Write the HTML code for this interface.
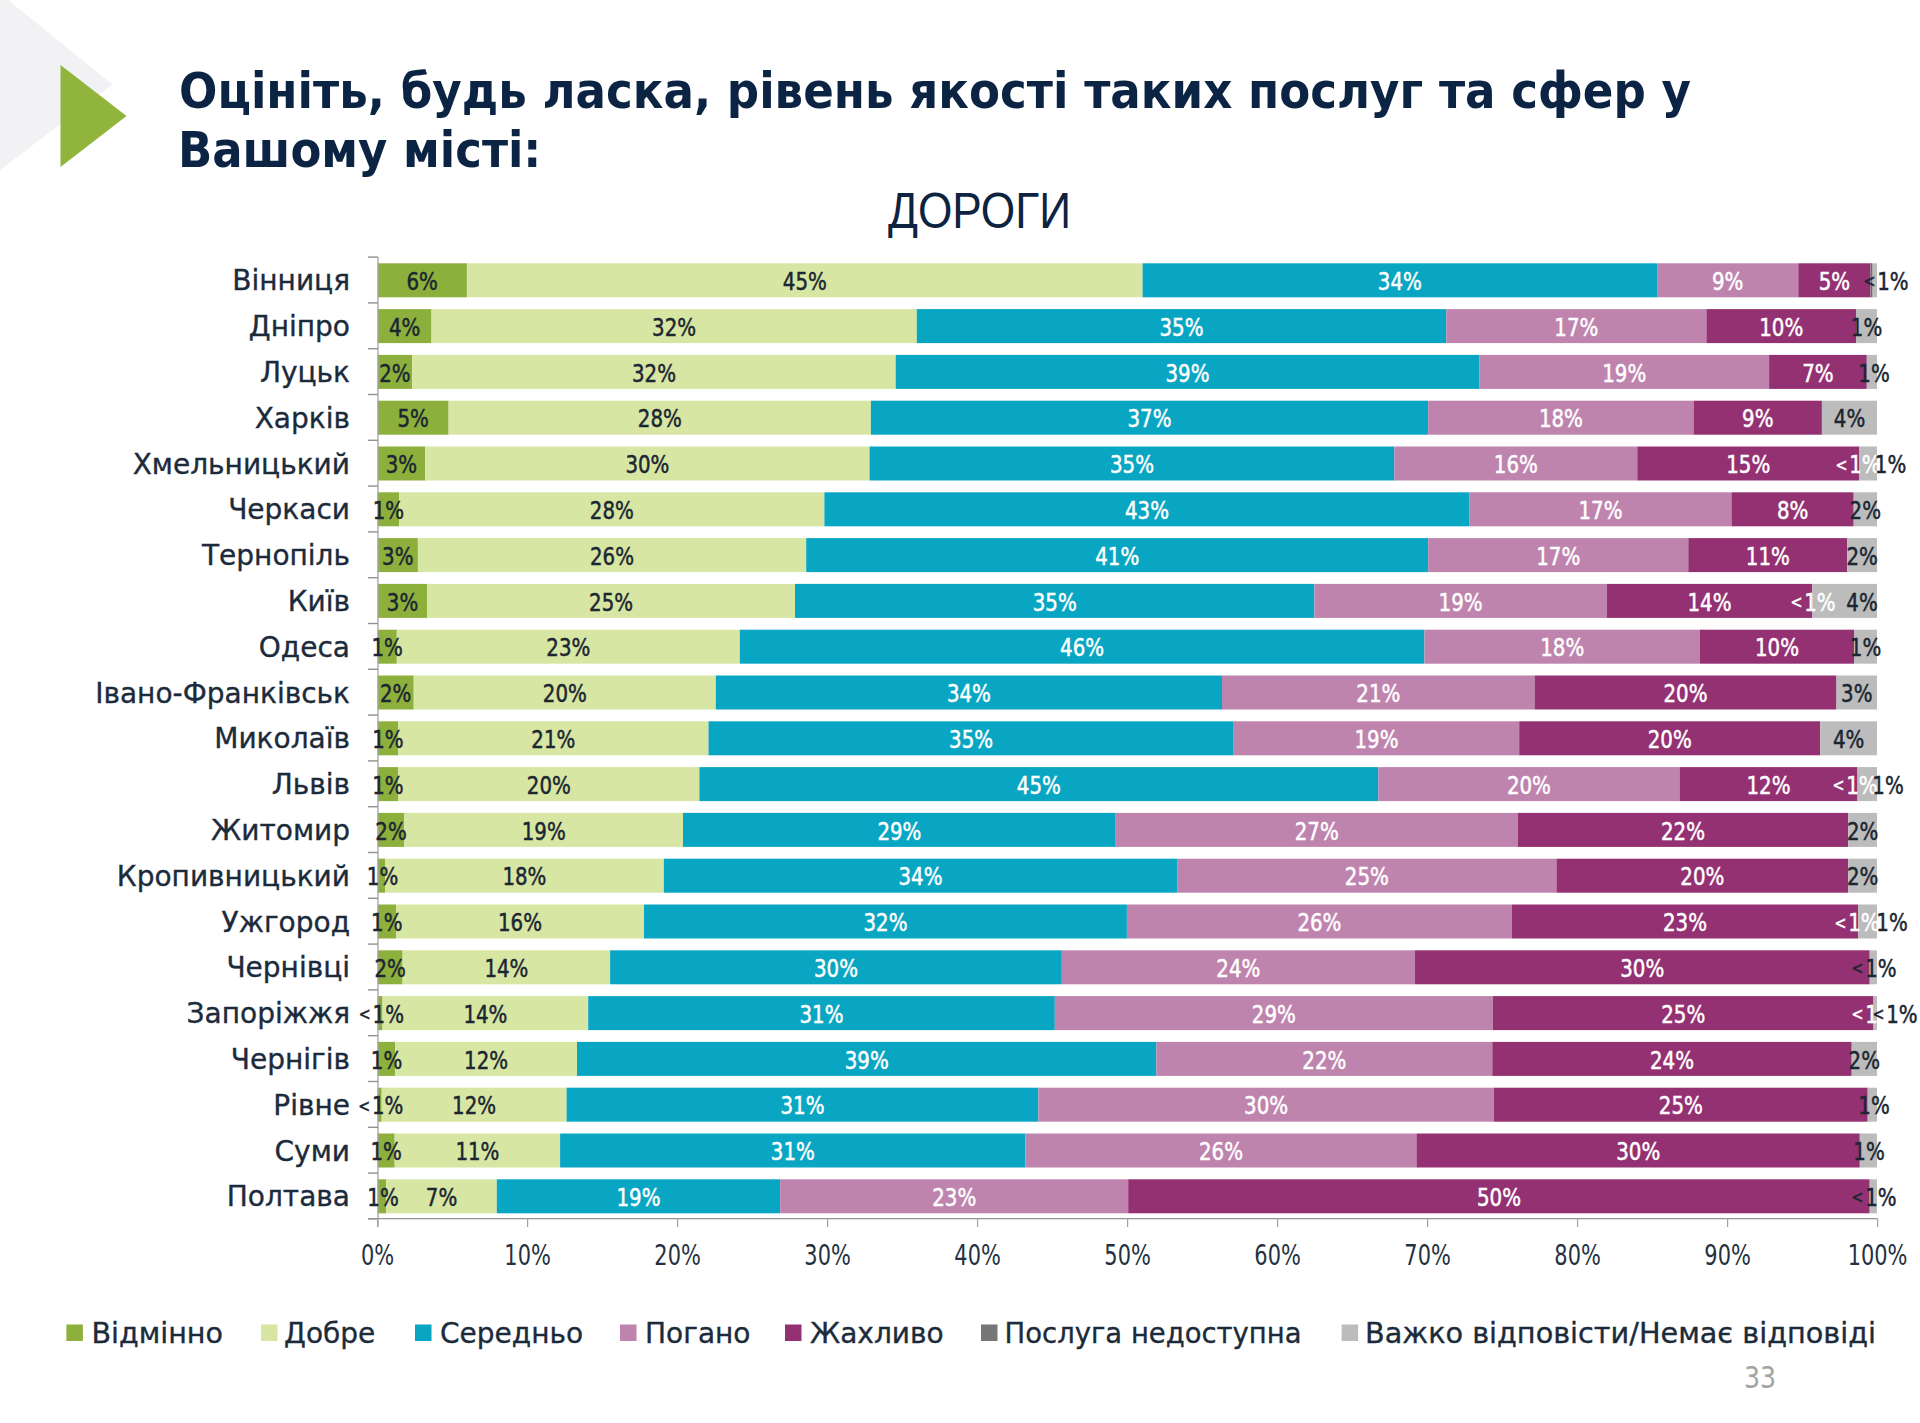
<!DOCTYPE html><html><head><meta charset="utf-8"><style>html,body{margin:0;padding:0;background:#fff;}svg{display:block;}</style></head><body>
<svg width="1920" height="1423" viewBox="0 0 1920 1423">
<rect width="1920" height="1423" fill="#ffffff"/>
<polygon points="0,0 8,0 112.5,84.5 0,170" fill="#f2f2f4"/>
<polygon points="60.5,65 126.5,116 60.5,167" fill="#90b43c"/>
<g font-family="DejaVu Sans, sans-serif" font-weight="bold" font-stretch="condensed" font-size="50" fill="#0c2444">
<text x="179" y="108" textLength="1512" lengthAdjust="spacingAndGlyphs">Оцініть, будь ласка, рівень якості таких послуг та сфер у</text>
<text x="178" y="167">Вашому місті:</text>
</g>
<text x="888" y="228.3" font-family="Liberation Sans, sans-serif" font-size="50.5" fill="#0d2340" textLength="183" lengthAdjust="spacingAndGlyphs">ДОРОГИ</text>
<rect x="377.6" y="263.3" width="89.3" height="34.0" fill="#8db03c"/>
<rect x="466.9" y="263.3" width="675.7" height="34.0" fill="#d8e6a4"/>
<rect x="1142.6" y="263.3" width="514.5" height="34.0" fill="#09a6c3"/>
<rect x="1657.1" y="263.3" width="141.2" height="34.0" fill="#bf84ae"/>
<rect x="1798.3" y="263.3" width="72.3" height="34.0" fill="#943172"/>
<rect x="1870.6" y="263.3" width="6.4" height="34.0" fill="#bcbcbc"/>
<rect x="377.6" y="309.1" width="53.9" height="34.0" fill="#8db03c"/>
<rect x="431.5" y="309.1" width="485.3" height="34.0" fill="#d8e6a4"/>
<rect x="916.8" y="309.1" width="529.5" height="34.0" fill="#09a6c3"/>
<rect x="1446.3" y="309.1" width="260.1" height="34.0" fill="#bf84ae"/>
<rect x="1706.4" y="309.1" width="149.6" height="34.0" fill="#943172"/>
<rect x="1856.0" y="309.1" width="21.0" height="34.0" fill="#bcbcbc"/>
<rect x="377.6" y="354.9" width="34.6" height="34.0" fill="#8db03c"/>
<rect x="412.2" y="354.9" width="483.5" height="34.0" fill="#d8e6a4"/>
<rect x="895.7" y="354.9" width="583.5" height="34.0" fill="#09a6c3"/>
<rect x="1479.2" y="354.9" width="289.9" height="34.0" fill="#bf84ae"/>
<rect x="1769.1" y="354.9" width="97.7" height="34.0" fill="#943172"/>
<rect x="1866.8" y="354.9" width="10.2" height="34.0" fill="#bcbcbc"/>
<rect x="377.6" y="400.7" width="71.0" height="34.0" fill="#8db03c"/>
<rect x="448.6" y="400.7" width="422.3" height="34.0" fill="#d8e6a4"/>
<rect x="870.9" y="400.7" width="557.3" height="34.0" fill="#09a6c3"/>
<rect x="1428.2" y="400.7" width="265.4" height="34.0" fill="#bf84ae"/>
<rect x="1693.6" y="400.7" width="128.3" height="34.0" fill="#943172"/>
<rect x="1821.9" y="400.7" width="55.1" height="34.0" fill="#bcbcbc"/>
<rect x="377.6" y="446.5" width="47.6" height="34.0" fill="#8db03c"/>
<rect x="425.2" y="446.5" width="444.4" height="34.0" fill="#d8e6a4"/>
<rect x="869.6" y="446.5" width="524.7" height="34.0" fill="#09a6c3"/>
<rect x="1394.3" y="446.5" width="243.0" height="34.0" fill="#bf84ae"/>
<rect x="1637.3" y="446.5" width="221.7" height="34.0" fill="#943172"/>
<rect x="1859.0" y="446.5" width="18.0" height="34.0" fill="#bcbcbc"/>
<rect x="377.6" y="492.3" width="21.6" height="34.0" fill="#8db03c"/>
<rect x="399.2" y="492.3" width="425.2" height="34.0" fill="#d8e6a4"/>
<rect x="824.4" y="492.3" width="645.2" height="34.0" fill="#09a6c3"/>
<rect x="1469.6" y="492.3" width="261.9" height="34.0" fill="#bf84ae"/>
<rect x="1731.5" y="492.3" width="122.2" height="34.0" fill="#943172"/>
<rect x="1853.7" y="492.3" width="23.3" height="34.0" fill="#bcbcbc"/>
<rect x="377.6" y="538.1" width="40.3" height="34.0" fill="#8db03c"/>
<rect x="417.9" y="538.1" width="388.3" height="34.0" fill="#d8e6a4"/>
<rect x="806.2" y="538.1" width="622.0" height="34.0" fill="#09a6c3"/>
<rect x="1428.2" y="538.1" width="260.1" height="34.0" fill="#bf84ae"/>
<rect x="1688.3" y="538.1" width="159.0" height="34.0" fill="#943172"/>
<rect x="1847.3" y="538.1" width="29.7" height="34.0" fill="#bcbcbc"/>
<rect x="377.6" y="583.9" width="49.7" height="34.0" fill="#8db03c"/>
<rect x="427.3" y="583.9" width="367.7" height="34.0" fill="#d8e6a4"/>
<rect x="795.0" y="583.9" width="519.4" height="34.0" fill="#09a6c3"/>
<rect x="1314.4" y="583.9" width="292.3" height="34.0" fill="#bf84ae"/>
<rect x="1606.7" y="583.9" width="205.6" height="34.0" fill="#943172"/>
<rect x="1812.3" y="583.9" width="64.7" height="34.0" fill="#bcbcbc"/>
<rect x="377.6" y="629.7" width="19.2" height="34.0" fill="#8db03c"/>
<rect x="396.8" y="629.7" width="343.0" height="34.0" fill="#d8e6a4"/>
<rect x="739.8" y="629.7" width="684.6" height="34.0" fill="#09a6c3"/>
<rect x="1424.4" y="629.7" width="275.6" height="34.0" fill="#bf84ae"/>
<rect x="1700.0" y="629.7" width="154.0" height="34.0" fill="#943172"/>
<rect x="1854.0" y="629.7" width="23.0" height="34.0" fill="#bcbcbc"/>
<rect x="377.6" y="675.5" width="36.1" height="34.0" fill="#8db03c"/>
<rect x="413.8" y="675.5" width="302.0" height="34.0" fill="#d8e6a4"/>
<rect x="715.8" y="675.5" width="506.2" height="34.0" fill="#09a6c3"/>
<rect x="1222.0" y="675.5" width="312.6" height="34.0" fill="#bf84ae"/>
<rect x="1534.6" y="675.5" width="301.9" height="34.0" fill="#943172"/>
<rect x="1836.5" y="675.5" width="40.5" height="34.0" fill="#bcbcbc"/>
<rect x="377.6" y="721.3" width="20.5" height="34.0" fill="#8db03c"/>
<rect x="398.1" y="721.3" width="310.4" height="34.0" fill="#d8e6a4"/>
<rect x="708.5" y="721.3" width="525.2" height="34.0" fill="#09a6c3"/>
<rect x="1233.7" y="721.3" width="285.5" height="34.0" fill="#bf84ae"/>
<rect x="1519.2" y="721.3" width="301.0" height="34.0" fill="#943172"/>
<rect x="1820.2" y="721.3" width="56.8" height="34.0" fill="#bcbcbc"/>
<rect x="377.6" y="767.1" width="20.5" height="34.0" fill="#8db03c"/>
<rect x="398.1" y="767.1" width="301.3" height="34.0" fill="#d8e6a4"/>
<rect x="699.4" y="767.1" width="678.9" height="34.0" fill="#09a6c3"/>
<rect x="1378.3" y="767.1" width="301.3" height="34.0" fill="#bf84ae"/>
<rect x="1679.6" y="767.1" width="177.9" height="34.0" fill="#943172"/>
<rect x="1857.5" y="767.1" width="19.5" height="34.0" fill="#bcbcbc"/>
<rect x="377.6" y="812.9" width="26.8" height="34.0" fill="#8db03c"/>
<rect x="404.4" y="812.9" width="278.6" height="34.0" fill="#d8e6a4"/>
<rect x="683.0" y="812.9" width="432.7" height="34.0" fill="#09a6c3"/>
<rect x="1115.7" y="812.9" width="402.0" height="34.0" fill="#bf84ae"/>
<rect x="1517.7" y="812.9" width="330.5" height="34.0" fill="#943172"/>
<rect x="1848.2" y="812.9" width="28.8" height="34.0" fill="#bcbcbc"/>
<rect x="377.6" y="858.7" width="7.5" height="34.0" fill="#8db03c"/>
<rect x="385.1" y="858.7" width="278.6" height="34.0" fill="#d8e6a4"/>
<rect x="663.8" y="858.7" width="513.5" height="34.0" fill="#09a6c3"/>
<rect x="1177.2" y="858.7" width="379.3" height="34.0" fill="#bf84ae"/>
<rect x="1556.5" y="858.7" width="291.7" height="34.0" fill="#943172"/>
<rect x="1848.2" y="858.7" width="28.8" height="34.0" fill="#bcbcbc"/>
<rect x="377.6" y="904.5" width="18.4" height="34.0" fill="#8db03c"/>
<rect x="396.0" y="904.5" width="248.0" height="34.0" fill="#d8e6a4"/>
<rect x="644.0" y="904.5" width="482.9" height="34.0" fill="#09a6c3"/>
<rect x="1126.9" y="904.5" width="385.0" height="34.0" fill="#bf84ae"/>
<rect x="1511.9" y="904.5" width="346.2" height="34.0" fill="#943172"/>
<rect x="1858.1" y="904.5" width="18.9" height="34.0" fill="#bcbcbc"/>
<rect x="377.6" y="950.3" width="25.0" height="34.0" fill="#8db03c"/>
<rect x="402.6" y="950.3" width="207.5" height="34.0" fill="#d8e6a4"/>
<rect x="610.1" y="950.3" width="451.7" height="34.0" fill="#09a6c3"/>
<rect x="1061.8" y="950.3" width="353.0" height="34.0" fill="#bf84ae"/>
<rect x="1414.8" y="950.3" width="454.9" height="34.0" fill="#943172"/>
<rect x="1869.7" y="950.3" width="7.3" height="34.0" fill="#bcbcbc"/>
<rect x="377.6" y="996.1" width="4.9" height="34.0" fill="#8db03c"/>
<rect x="382.5" y="996.1" width="205.7" height="34.0" fill="#d8e6a4"/>
<rect x="588.2" y="996.1" width="466.6" height="34.0" fill="#09a6c3"/>
<rect x="1054.8" y="996.1" width="438.1" height="34.0" fill="#bf84ae"/>
<rect x="1492.9" y="996.1" width="380.6" height="34.0" fill="#943172"/>
<rect x="1873.5" y="996.1" width="3.5" height="34.0" fill="#bcbcbc"/>
<rect x="377.6" y="1041.9" width="17.7" height="34.0" fill="#8db03c"/>
<rect x="395.3" y="1041.9" width="181.7" height="34.0" fill="#d8e6a4"/>
<rect x="577.0" y="1041.9" width="579.4" height="34.0" fill="#09a6c3"/>
<rect x="1156.4" y="1041.9" width="335.9" height="34.0" fill="#bf84ae"/>
<rect x="1492.3" y="1041.9" width="359.4" height="34.0" fill="#943172"/>
<rect x="1851.7" y="1041.9" width="25.3" height="34.0" fill="#bcbcbc"/>
<rect x="377.6" y="1087.7" width="4.1" height="34.0" fill="#8db03c"/>
<rect x="381.7" y="1087.7" width="184.9" height="34.0" fill="#d8e6a4"/>
<rect x="566.6" y="1087.7" width="471.8" height="34.0" fill="#09a6c3"/>
<rect x="1038.4" y="1087.7" width="455.4" height="34.0" fill="#bf84ae"/>
<rect x="1493.8" y="1087.7" width="373.9" height="34.0" fill="#943172"/>
<rect x="1867.7" y="1087.7" width="9.3" height="34.0" fill="#bcbcbc"/>
<rect x="377.6" y="1133.5" width="17.1" height="34.0" fill="#8db03c"/>
<rect x="394.7" y="1133.5" width="165.4" height="34.0" fill="#d8e6a4"/>
<rect x="560.1" y="1133.5" width="465.3" height="34.0" fill="#09a6c3"/>
<rect x="1025.4" y="1133.5" width="391.1" height="34.0" fill="#bf84ae"/>
<rect x="1416.5" y="1133.5" width="443.3" height="34.0" fill="#943172"/>
<rect x="1859.8" y="1133.5" width="17.2" height="34.0" fill="#bcbcbc"/>
<rect x="377.6" y="1179.3" width="8.5" height="34.0" fill="#8db03c"/>
<rect x="386.1" y="1179.3" width="110.7" height="34.0" fill="#d8e6a4"/>
<rect x="496.8" y="1179.3" width="283.4" height="34.0" fill="#09a6c3"/>
<rect x="780.2" y="1179.3" width="348.0" height="34.0" fill="#bf84ae"/>
<rect x="1128.2" y="1179.3" width="741.5" height="34.0" fill="#943172"/>
<rect x="1869.7" y="1179.3" width="7.3" height="34.0" fill="#bcbcbc"/>
<rect x="1870.6" y="263.3" width="1.6" height="34.0" fill="#6e6e6e"/>
<g stroke="#929292" stroke-width="1.4">
<line x1="378" y1="257" x2="378" y2="1227" stroke="#a4a4a4" stroke-width="1.3"/>
<line x1="368" y1="1218.6" x2="1877.5" y2="1218.6"/>
<line x1="368" y1="257.1" x2="378" y2="257.1"/>
<line x1="368" y1="302.9" x2="378" y2="302.9"/>
<line x1="368" y1="348.7" x2="378" y2="348.7"/>
<line x1="368" y1="394.5" x2="378" y2="394.5"/>
<line x1="368" y1="440.3" x2="378" y2="440.3"/>
<line x1="368" y1="486.1" x2="378" y2="486.1"/>
<line x1="368" y1="531.9" x2="378" y2="531.9"/>
<line x1="368" y1="577.7" x2="378" y2="577.7"/>
<line x1="368" y1="623.5" x2="378" y2="623.5"/>
<line x1="368" y1="669.3" x2="378" y2="669.3"/>
<line x1="368" y1="715.1" x2="378" y2="715.1"/>
<line x1="368" y1="760.9" x2="378" y2="760.9"/>
<line x1="368" y1="806.7" x2="378" y2="806.7"/>
<line x1="368" y1="852.5" x2="378" y2="852.5"/>
<line x1="368" y1="898.3" x2="378" y2="898.3"/>
<line x1="368" y1="944.1" x2="378" y2="944.1"/>
<line x1="368" y1="989.9" x2="378" y2="989.9"/>
<line x1="368" y1="1035.7" x2="378" y2="1035.7"/>
<line x1="368" y1="1081.5" x2="378" y2="1081.5"/>
<line x1="368" y1="1127.3" x2="378" y2="1127.3"/>
<line x1="368" y1="1173.1" x2="378" y2="1173.1"/>
<line x1="368" y1="1218.9" x2="378" y2="1218.9"/>
<line x1="377.6" y1="1218.6" x2="377.6" y2="1227" stroke="#a2a2a2" stroke-width="1.2"/>
<line x1="527.6" y1="1218.6" x2="527.6" y2="1227" stroke="#a2a2a2" stroke-width="1.2"/>
<line x1="677.6" y1="1218.6" x2="677.6" y2="1227" stroke="#a2a2a2" stroke-width="1.2"/>
<line x1="827.6" y1="1218.6" x2="827.6" y2="1227" stroke="#a2a2a2" stroke-width="1.2"/>
<line x1="977.6" y1="1218.6" x2="977.6" y2="1227" stroke="#a2a2a2" stroke-width="1.2"/>
<line x1="1127.6" y1="1218.6" x2="1127.6" y2="1227" stroke="#a2a2a2" stroke-width="1.2"/>
<line x1="1277.6" y1="1218.6" x2="1277.6" y2="1227" stroke="#a2a2a2" stroke-width="1.2"/>
<line x1="1427.6" y1="1218.6" x2="1427.6" y2="1227" stroke="#a2a2a2" stroke-width="1.2"/>
<line x1="1577.6" y1="1218.6" x2="1577.6" y2="1227" stroke="#a2a2a2" stroke-width="1.2"/>
<line x1="1727.6" y1="1218.6" x2="1727.6" y2="1227" stroke="#a2a2a2" stroke-width="1.2"/>
<line x1="1877.6" y1="1218.6" x2="1877.6" y2="1227" stroke="#a2a2a2" stroke-width="1.2"/>
</g>
<g font-family="DejaVu Sans, sans-serif" font-stretch="condensed" font-size="25">
<text transform="translate(422.2 289.9) scale(0.880 1)" text-anchor="middle" fill="#1b2632" stroke="#1b2632" stroke-width="0.5">6%</text>
<text transform="translate(804.8 289.9) scale(0.880 1)" text-anchor="middle" fill="#1b2632" stroke="#1b2632" stroke-width="0.5">45%</text>
<text transform="translate(1399.8 289.9) scale(0.880 1)" text-anchor="middle" fill="#ffffff" stroke="#ffffff" stroke-width="0.5">34%</text>
<text transform="translate(1727.7 289.9) scale(0.880 1)" text-anchor="middle" fill="#ffffff" stroke="#ffffff" stroke-width="0.5">9%</text>
<text transform="translate(1834.4 289.9) scale(0.880 1)" text-anchor="middle" fill="#ffffff" stroke="#ffffff" stroke-width="0.5">5%</text>
<text transform="translate(1886.0 289.9) scale(0.880 1)" text-anchor="middle" fill="#1b2632" stroke="#1b2632" stroke-width="0.5"><tspan font-size="18" dy="-2.5">&lt;</tspan><tspan dx="2" dy="2.5">1%</tspan></text>
<text transform="translate(404.6 335.7) scale(0.880 1)" text-anchor="middle" fill="#1b2632" stroke="#1b2632" stroke-width="0.5">4%</text>
<text transform="translate(674.1 335.7) scale(0.880 1)" text-anchor="middle" fill="#1b2632" stroke="#1b2632" stroke-width="0.5">32%</text>
<text transform="translate(1181.5 335.7) scale(0.880 1)" text-anchor="middle" fill="#ffffff" stroke="#ffffff" stroke-width="0.5">35%</text>
<text transform="translate(1576.3 335.7) scale(0.880 1)" text-anchor="middle" fill="#ffffff" stroke="#ffffff" stroke-width="0.5">17%</text>
<text transform="translate(1781.2 335.7) scale(0.880 1)" text-anchor="middle" fill="#ffffff" stroke="#ffffff" stroke-width="0.5">10%</text>
<text transform="translate(1866.5 335.7) scale(0.880 1)" text-anchor="middle" fill="#1b2632" stroke="#1b2632" stroke-width="0.5">1%</text>
<text transform="translate(394.9 381.5) scale(0.880 1)" text-anchor="middle" fill="#1b2632" stroke="#1b2632" stroke-width="0.5">2%</text>
<text transform="translate(654.0 381.5) scale(0.880 1)" text-anchor="middle" fill="#1b2632" stroke="#1b2632" stroke-width="0.5">32%</text>
<text transform="translate(1187.5 381.5) scale(0.880 1)" text-anchor="middle" fill="#ffffff" stroke="#ffffff" stroke-width="0.5">39%</text>
<text transform="translate(1624.2 381.5) scale(0.880 1)" text-anchor="middle" fill="#ffffff" stroke="#ffffff" stroke-width="0.5">19%</text>
<text transform="translate(1817.9 381.5) scale(0.880 1)" text-anchor="middle" fill="#ffffff" stroke="#ffffff" stroke-width="0.5">7%</text>
<text transform="translate(1874.0 381.5) scale(0.880 1)" text-anchor="middle" fill="#1b2632" stroke="#1b2632" stroke-width="0.5">1%</text>
<text transform="translate(413.1 427.3) scale(0.880 1)" text-anchor="middle" fill="#1b2632" stroke="#1b2632" stroke-width="0.5">5%</text>
<text transform="translate(659.8 427.3) scale(0.880 1)" text-anchor="middle" fill="#1b2632" stroke="#1b2632" stroke-width="0.5">28%</text>
<text transform="translate(1149.5 427.3) scale(0.880 1)" text-anchor="middle" fill="#ffffff" stroke="#ffffff" stroke-width="0.5">37%</text>
<text transform="translate(1560.9 427.3) scale(0.880 1)" text-anchor="middle" fill="#ffffff" stroke="#ffffff" stroke-width="0.5">18%</text>
<text transform="translate(1757.8 427.3) scale(0.880 1)" text-anchor="middle" fill="#ffffff" stroke="#ffffff" stroke-width="0.5">9%</text>
<text transform="translate(1849.5 427.3) scale(0.880 1)" text-anchor="middle" fill="#1b2632" stroke="#1b2632" stroke-width="0.5">4%</text>
<text transform="translate(401.4 473.1) scale(0.880 1)" text-anchor="middle" fill="#1b2632" stroke="#1b2632" stroke-width="0.5">3%</text>
<text transform="translate(647.4 473.1) scale(0.880 1)" text-anchor="middle" fill="#1b2632" stroke="#1b2632" stroke-width="0.5">30%</text>
<text transform="translate(1132.0 473.1) scale(0.880 1)" text-anchor="middle" fill="#ffffff" stroke="#ffffff" stroke-width="0.5">35%</text>
<text transform="translate(1515.8 473.1) scale(0.880 1)" text-anchor="middle" fill="#ffffff" stroke="#ffffff" stroke-width="0.5">16%</text>
<text transform="translate(1748.2 473.1) scale(0.880 1)" text-anchor="middle" fill="#ffffff" stroke="#ffffff" stroke-width="0.5">15%</text>
<text transform="translate(1858.0 473.1) scale(0.880 1)" text-anchor="middle" fill="#fff" stroke="#fff" stroke-width="0.5"><tspan font-size="18" dy="-2.5">&lt;</tspan><tspan dx="2" dy="2.5">1%</tspan></text>
<text transform="translate(1890.5 473.1) scale(0.880 1)" text-anchor="middle" fill="#1b2632" stroke="#1b2632" stroke-width="0.5">1%</text>
<text transform="translate(388.4 518.9) scale(0.880 1)" text-anchor="middle" fill="#1b2632" stroke="#1b2632" stroke-width="0.5">1%</text>
<text transform="translate(611.8 518.9) scale(0.880 1)" text-anchor="middle" fill="#1b2632" stroke="#1b2632" stroke-width="0.5">28%</text>
<text transform="translate(1147.0 518.9) scale(0.880 1)" text-anchor="middle" fill="#ffffff" stroke="#ffffff" stroke-width="0.5">43%</text>
<text transform="translate(1600.5 518.9) scale(0.880 1)" text-anchor="middle" fill="#ffffff" stroke="#ffffff" stroke-width="0.5">17%</text>
<text transform="translate(1792.6 518.9) scale(0.880 1)" text-anchor="middle" fill="#ffffff" stroke="#ffffff" stroke-width="0.5">8%</text>
<text transform="translate(1865.3 518.9) scale(0.880 1)" text-anchor="middle" fill="#1b2632" stroke="#1b2632" stroke-width="0.5">2%</text>
<text transform="translate(397.8 564.7) scale(0.880 1)" text-anchor="middle" fill="#1b2632" stroke="#1b2632" stroke-width="0.5">3%</text>
<text transform="translate(612.0 564.7) scale(0.880 1)" text-anchor="middle" fill="#1b2632" stroke="#1b2632" stroke-width="0.5">26%</text>
<text transform="translate(1117.2 564.7) scale(0.880 1)" text-anchor="middle" fill="#ffffff" stroke="#ffffff" stroke-width="0.5">41%</text>
<text transform="translate(1558.2 564.7) scale(0.880 1)" text-anchor="middle" fill="#ffffff" stroke="#ffffff" stroke-width="0.5">17%</text>
<text transform="translate(1767.8 564.7) scale(0.880 1)" text-anchor="middle" fill="#ffffff" stroke="#ffffff" stroke-width="0.5">11%</text>
<text transform="translate(1862.2 564.7) scale(0.880 1)" text-anchor="middle" fill="#1b2632" stroke="#1b2632" stroke-width="0.5">2%</text>
<text transform="translate(402.5 610.5) scale(0.880 1)" text-anchor="middle" fill="#1b2632" stroke="#1b2632" stroke-width="0.5">3%</text>
<text transform="translate(611.1 610.5) scale(0.880 1)" text-anchor="middle" fill="#1b2632" stroke="#1b2632" stroke-width="0.5">25%</text>
<text transform="translate(1054.7 610.5) scale(0.880 1)" text-anchor="middle" fill="#ffffff" stroke="#ffffff" stroke-width="0.5">35%</text>
<text transform="translate(1460.6 610.5) scale(0.880 1)" text-anchor="middle" fill="#ffffff" stroke="#ffffff" stroke-width="0.5">19%</text>
<text transform="translate(1709.5 610.5) scale(0.880 1)" text-anchor="middle" fill="#ffffff" stroke="#ffffff" stroke-width="0.5">14%</text>
<text transform="translate(1813.0 610.5) scale(0.880 1)" text-anchor="middle" fill="#fff" stroke="#fff" stroke-width="0.5"><tspan font-size="18" dy="-2.5">&lt;</tspan><tspan dx="2" dy="2.5">1%</tspan></text>
<text transform="translate(1862.0 610.5) scale(0.880 1)" text-anchor="middle" fill="#1b2632" stroke="#1b2632" stroke-width="0.5">4%</text>
<text transform="translate(387.2 656.3) scale(0.880 1)" text-anchor="middle" fill="#1b2632" stroke="#1b2632" stroke-width="0.5">1%</text>
<text transform="translate(568.3 656.3) scale(0.880 1)" text-anchor="middle" fill="#1b2632" stroke="#1b2632" stroke-width="0.5">23%</text>
<text transform="translate(1082.1 656.3) scale(0.880 1)" text-anchor="middle" fill="#ffffff" stroke="#ffffff" stroke-width="0.5">46%</text>
<text transform="translate(1562.2 656.3) scale(0.880 1)" text-anchor="middle" fill="#ffffff" stroke="#ffffff" stroke-width="0.5">18%</text>
<text transform="translate(1777.0 656.3) scale(0.880 1)" text-anchor="middle" fill="#ffffff" stroke="#ffffff" stroke-width="0.5">10%</text>
<text transform="translate(1865.5 656.3) scale(0.880 1)" text-anchor="middle" fill="#1b2632" stroke="#1b2632" stroke-width="0.5">1%</text>
<text transform="translate(395.7 702.1) scale(0.880 1)" text-anchor="middle" fill="#1b2632" stroke="#1b2632" stroke-width="0.5">2%</text>
<text transform="translate(564.8 702.1) scale(0.880 1)" text-anchor="middle" fill="#1b2632" stroke="#1b2632" stroke-width="0.5">20%</text>
<text transform="translate(968.9 702.1) scale(0.880 1)" text-anchor="middle" fill="#ffffff" stroke="#ffffff" stroke-width="0.5">34%</text>
<text transform="translate(1378.3 702.1) scale(0.880 1)" text-anchor="middle" fill="#ffffff" stroke="#ffffff" stroke-width="0.5">21%</text>
<text transform="translate(1685.5 702.1) scale(0.880 1)" text-anchor="middle" fill="#ffffff" stroke="#ffffff" stroke-width="0.5">20%</text>
<text transform="translate(1856.8 702.1) scale(0.880 1)" text-anchor="middle" fill="#1b2632" stroke="#1b2632" stroke-width="0.5">3%</text>
<text transform="translate(387.9 747.9) scale(0.880 1)" text-anchor="middle" fill="#1b2632" stroke="#1b2632" stroke-width="0.5">1%</text>
<text transform="translate(553.3 747.9) scale(0.880 1)" text-anchor="middle" fill="#1b2632" stroke="#1b2632" stroke-width="0.5">21%</text>
<text transform="translate(971.1 747.9) scale(0.880 1)" text-anchor="middle" fill="#ffffff" stroke="#ffffff" stroke-width="0.5">35%</text>
<text transform="translate(1376.5 747.9) scale(0.880 1)" text-anchor="middle" fill="#ffffff" stroke="#ffffff" stroke-width="0.5">19%</text>
<text transform="translate(1669.7 747.9) scale(0.880 1)" text-anchor="middle" fill="#ffffff" stroke="#ffffff" stroke-width="0.5">20%</text>
<text transform="translate(1848.6 747.9) scale(0.880 1)" text-anchor="middle" fill="#1b2632" stroke="#1b2632" stroke-width="0.5">4%</text>
<text transform="translate(387.9 793.7) scale(0.880 1)" text-anchor="middle" fill="#1b2632" stroke="#1b2632" stroke-width="0.5">1%</text>
<text transform="translate(548.8 793.7) scale(0.880 1)" text-anchor="middle" fill="#1b2632" stroke="#1b2632" stroke-width="0.5">20%</text>
<text transform="translate(1038.8 793.7) scale(0.880 1)" text-anchor="middle" fill="#ffffff" stroke="#ffffff" stroke-width="0.5">45%</text>
<text transform="translate(1528.9 793.7) scale(0.880 1)" text-anchor="middle" fill="#ffffff" stroke="#ffffff" stroke-width="0.5">20%</text>
<text transform="translate(1768.5 793.7) scale(0.880 1)" text-anchor="middle" fill="#ffffff" stroke="#ffffff" stroke-width="0.5">12%</text>
<text transform="translate(1855.0 793.7) scale(0.880 1)" text-anchor="middle" fill="#fff" stroke="#fff" stroke-width="0.5"><tspan font-size="18" dy="-2.5">&lt;</tspan><tspan dx="2" dy="2.5">1%</tspan></text>
<text transform="translate(1888.0 793.7) scale(0.880 1)" text-anchor="middle" fill="#1b2632" stroke="#1b2632" stroke-width="0.5">1%</text>
<text transform="translate(391.0 839.5) scale(0.880 1)" text-anchor="middle" fill="#1b2632" stroke="#1b2632" stroke-width="0.5">2%</text>
<text transform="translate(543.7 839.5) scale(0.880 1)" text-anchor="middle" fill="#1b2632" stroke="#1b2632" stroke-width="0.5">19%</text>
<text transform="translate(899.4 839.5) scale(0.880 1)" text-anchor="middle" fill="#ffffff" stroke="#ffffff" stroke-width="0.5">29%</text>
<text transform="translate(1316.7 839.5) scale(0.880 1)" text-anchor="middle" fill="#ffffff" stroke="#ffffff" stroke-width="0.5">27%</text>
<text transform="translate(1683.0 839.5) scale(0.880 1)" text-anchor="middle" fill="#ffffff" stroke="#ffffff" stroke-width="0.5">22%</text>
<text transform="translate(1862.6 839.5) scale(0.880 1)" text-anchor="middle" fill="#1b2632" stroke="#1b2632" stroke-width="0.5">2%</text>
<text transform="translate(382.5 885.3) scale(0.880 1)" text-anchor="middle" fill="#1b2632" stroke="#1b2632" stroke-width="0.5">1%</text>
<text transform="translate(524.4 885.3) scale(0.880 1)" text-anchor="middle" fill="#1b2632" stroke="#1b2632" stroke-width="0.5">18%</text>
<text transform="translate(920.5 885.3) scale(0.880 1)" text-anchor="middle" fill="#ffffff" stroke="#ffffff" stroke-width="0.5">34%</text>
<text transform="translate(1366.8 885.3) scale(0.880 1)" text-anchor="middle" fill="#ffffff" stroke="#ffffff" stroke-width="0.5">25%</text>
<text transform="translate(1702.3 885.3) scale(0.880 1)" text-anchor="middle" fill="#ffffff" stroke="#ffffff" stroke-width="0.5">20%</text>
<text transform="translate(1862.6 885.3) scale(0.880 1)" text-anchor="middle" fill="#1b2632" stroke="#1b2632" stroke-width="0.5">2%</text>
<text transform="translate(386.8 931.1) scale(0.880 1)" text-anchor="middle" fill="#1b2632" stroke="#1b2632" stroke-width="0.5">1%</text>
<text transform="translate(520.0 931.1) scale(0.880 1)" text-anchor="middle" fill="#1b2632" stroke="#1b2632" stroke-width="0.5">16%</text>
<text transform="translate(885.5 931.1) scale(0.880 1)" text-anchor="middle" fill="#ffffff" stroke="#ffffff" stroke-width="0.5">32%</text>
<text transform="translate(1319.4 931.1) scale(0.880 1)" text-anchor="middle" fill="#ffffff" stroke="#ffffff" stroke-width="0.5">26%</text>
<text transform="translate(1685.0 931.1) scale(0.880 1)" text-anchor="middle" fill="#ffffff" stroke="#ffffff" stroke-width="0.5">23%</text>
<text transform="translate(1857.0 931.1) scale(0.880 1)" text-anchor="middle" fill="#fff" stroke="#fff" stroke-width="0.5"><tspan font-size="18" dy="-2.5">&lt;</tspan><tspan dx="2" dy="2.5">1%</tspan></text>
<text transform="translate(1892.0 931.1) scale(0.880 1)" text-anchor="middle" fill="#1b2632" stroke="#1b2632" stroke-width="0.5">1%</text>
<text transform="translate(390.1 976.9) scale(0.880 1)" text-anchor="middle" fill="#1b2632" stroke="#1b2632" stroke-width="0.5">2%</text>
<text transform="translate(506.4 976.9) scale(0.880 1)" text-anchor="middle" fill="#1b2632" stroke="#1b2632" stroke-width="0.5">14%</text>
<text transform="translate(836.0 976.9) scale(0.880 1)" text-anchor="middle" fill="#ffffff" stroke="#ffffff" stroke-width="0.5">30%</text>
<text transform="translate(1238.3 976.9) scale(0.880 1)" text-anchor="middle" fill="#ffffff" stroke="#ffffff" stroke-width="0.5">24%</text>
<text transform="translate(1642.2 976.9) scale(0.880 1)" text-anchor="middle" fill="#ffffff" stroke="#ffffff" stroke-width="0.5">30%</text>
<text transform="translate(1874.0 976.9) scale(0.880 1)" text-anchor="middle" fill="#1b2632" stroke="#1b2632" stroke-width="0.5"><tspan font-size="18" dy="-2.5">&lt;</tspan><tspan dx="2" dy="2.5">1%</tspan></text>
<text transform="translate(381.4 1022.7) scale(0.880 1)" text-anchor="middle" fill="#1b2632" stroke="#1b2632" stroke-width="0.5"><tspan font-size="18" dy="-2.5">&lt;</tspan><tspan dx="2" dy="2.5">1%</tspan></text>
<text transform="translate(485.4 1022.7) scale(0.880 1)" text-anchor="middle" fill="#1b2632" stroke="#1b2632" stroke-width="0.5">14%</text>
<text transform="translate(821.5 1022.7) scale(0.880 1)" text-anchor="middle" fill="#ffffff" stroke="#ffffff" stroke-width="0.5">31%</text>
<text transform="translate(1273.8 1022.7) scale(0.880 1)" text-anchor="middle" fill="#ffffff" stroke="#ffffff" stroke-width="0.5">29%</text>
<text transform="translate(1683.2 1022.7) scale(0.880 1)" text-anchor="middle" fill="#ffffff" stroke="#ffffff" stroke-width="0.5">25%</text>
<text transform="translate(1874.0 1022.7) scale(0.880 1)" text-anchor="middle" fill="#fff" stroke="#fff" stroke-width="0.5"><tspan font-size="18" dy="-2.5">&lt;</tspan><tspan dx="2" dy="2.5">1%</tspan></text>
<text transform="translate(1895.0 1022.7) scale(0.880 1)" text-anchor="middle" fill="#1b2632" stroke="#1b2632" stroke-width="0.5"><tspan font-size="18" dy="-2.5">&lt;</tspan><tspan dx="2" dy="2.5">1%</tspan></text>
<text transform="translate(386.5 1068.5) scale(0.880 1)" text-anchor="middle" fill="#1b2632" stroke="#1b2632" stroke-width="0.5">1%</text>
<text transform="translate(486.1 1068.5) scale(0.880 1)" text-anchor="middle" fill="#1b2632" stroke="#1b2632" stroke-width="0.5">12%</text>
<text transform="translate(866.7 1068.5) scale(0.880 1)" text-anchor="middle" fill="#ffffff" stroke="#ffffff" stroke-width="0.5">39%</text>
<text transform="translate(1324.3 1068.5) scale(0.880 1)" text-anchor="middle" fill="#ffffff" stroke="#ffffff" stroke-width="0.5">22%</text>
<text transform="translate(1672.0 1068.5) scale(0.880 1)" text-anchor="middle" fill="#ffffff" stroke="#ffffff" stroke-width="0.5">24%</text>
<text transform="translate(1864.3 1068.5) scale(0.880 1)" text-anchor="middle" fill="#1b2632" stroke="#1b2632" stroke-width="0.5">2%</text>
<text transform="translate(380.8 1114.3) scale(0.880 1)" text-anchor="middle" fill="#1b2632" stroke="#1b2632" stroke-width="0.5"><tspan font-size="18" dy="-2.5">&lt;</tspan><tspan dx="2" dy="2.5">1%</tspan></text>
<text transform="translate(474.1 1114.3) scale(0.880 1)" text-anchor="middle" fill="#1b2632" stroke="#1b2632" stroke-width="0.5">12%</text>
<text transform="translate(802.5 1114.3) scale(0.880 1)" text-anchor="middle" fill="#ffffff" stroke="#ffffff" stroke-width="0.5">31%</text>
<text transform="translate(1266.1 1114.3) scale(0.880 1)" text-anchor="middle" fill="#ffffff" stroke="#ffffff" stroke-width="0.5">30%</text>
<text transform="translate(1680.8 1114.3) scale(0.880 1)" text-anchor="middle" fill="#ffffff" stroke="#ffffff" stroke-width="0.5">25%</text>
<text transform="translate(1874.0 1114.3) scale(0.880 1)" text-anchor="middle" fill="#1b2632" stroke="#1b2632" stroke-width="0.5">1%</text>
<text transform="translate(386.1 1160.1) scale(0.880 1)" text-anchor="middle" fill="#1b2632" stroke="#1b2632" stroke-width="0.5">1%</text>
<text transform="translate(477.4 1160.1) scale(0.880 1)" text-anchor="middle" fill="#1b2632" stroke="#1b2632" stroke-width="0.5">11%</text>
<text transform="translate(792.8 1160.1) scale(0.880 1)" text-anchor="middle" fill="#ffffff" stroke="#ffffff" stroke-width="0.5">31%</text>
<text transform="translate(1221.0 1160.1) scale(0.880 1)" text-anchor="middle" fill="#ffffff" stroke="#ffffff" stroke-width="0.5">26%</text>
<text transform="translate(1638.2 1160.1) scale(0.880 1)" text-anchor="middle" fill="#ffffff" stroke="#ffffff" stroke-width="0.5">30%</text>
<text transform="translate(1869.0 1160.1) scale(0.880 1)" text-anchor="middle" fill="#1b2632" stroke="#1b2632" stroke-width="0.5">1%</text>
<text transform="translate(383.0 1205.9) scale(0.880 1)" text-anchor="middle" fill="#1b2632" stroke="#1b2632" stroke-width="0.5">1%</text>
<text transform="translate(441.5 1205.9) scale(0.880 1)" text-anchor="middle" fill="#1b2632" stroke="#1b2632" stroke-width="0.5">7%</text>
<text transform="translate(638.5 1205.9) scale(0.880 1)" text-anchor="middle" fill="#ffffff" stroke="#ffffff" stroke-width="0.5">19%</text>
<text transform="translate(954.2 1205.9) scale(0.880 1)" text-anchor="middle" fill="#ffffff" stroke="#ffffff" stroke-width="0.5">23%</text>
<text transform="translate(1499.0 1205.9) scale(0.880 1)" text-anchor="middle" fill="#ffffff" stroke="#ffffff" stroke-width="0.5">50%</text>
<text transform="translate(1874.0 1205.9) scale(0.880 1)" text-anchor="middle" fill="#1b2632" stroke="#1b2632" stroke-width="0.5"><tspan font-size="18" dy="-2.5">&lt;</tspan><tspan dx="2" dy="2.5">1%</tspan></text>
</g>
<g font-family="DejaVu Sans, sans-serif" font-size="28" fill="#1c2b3b" stroke="#1c2b3b" stroke-width="0.35" text-anchor="end">
<text x="350" y="290.3">Вінниця</text>
<text x="350" y="336.1">Дніпро</text>
<text x="350" y="381.9">Луцьк</text>
<text x="350" y="427.7">Харків</text>
<text x="350" y="473.5">Хмельницький</text>
<text x="350" y="519.3">Черкаси</text>
<text x="350" y="565.1">Тернопіль</text>
<text x="350" y="610.9">Київ</text>
<text x="350" y="656.7">Одеса</text>
<text x="350" y="702.5">Івано-Франківськ</text>
<text x="350" y="748.3">Миколаїв</text>
<text x="350" y="794.1">Львів</text>
<text x="350" y="839.9">Житомир</text>
<text x="350" y="885.7">Кропивницький</text>
<text x="350" y="931.5">Ужгород</text>
<text x="350" y="977.3">Чернівці</text>
<text x="350" y="1023.1">Запоріжжя</text>
<text x="350" y="1068.9">Чернігів</text>
<text x="350" y="1114.7">Рівне</text>
<text x="350" y="1160.5">Суми</text>
<text x="350" y="1206.3">Полтава</text>
</g>
<g font-family="DejaVu Sans, sans-serif" font-stretch="condensed" font-size="28" fill="#243141" text-anchor="middle">
<text transform="translate(377.6 1265.3) scale(0.83 1)">0%</text>
<text transform="translate(527.6 1265.3) scale(0.83 1)">10%</text>
<text transform="translate(677.6 1265.3) scale(0.83 1)">20%</text>
<text transform="translate(827.6 1265.3) scale(0.83 1)">30%</text>
<text transform="translate(977.6 1265.3) scale(0.83 1)">40%</text>
<text transform="translate(1127.6 1265.3) scale(0.83 1)">50%</text>
<text transform="translate(1277.6 1265.3) scale(0.83 1)">60%</text>
<text transform="translate(1427.6 1265.3) scale(0.83 1)">70%</text>
<text transform="translate(1577.6 1265.3) scale(0.83 1)">80%</text>
<text transform="translate(1727.6 1265.3) scale(0.83 1)">90%</text>
<text transform="translate(1877.6 1265.3) scale(0.83 1)">100%</text>
</g>
<g font-family="DejaVu Sans, sans-serif" font-size="28" fill="#1c2b3b">
<rect x="66.4" y="1324.5" width="16.5" height="16.5" fill="#8db03c"/>
<text x="91.5" y="1343" stroke="#1c2b3b" stroke-width="0.35" textLength="131.5" lengthAdjust="spacingAndGlyphs">Відмінно</text>
<rect x="261.0" y="1324.5" width="16.5" height="16.5" fill="#d8e6a4"/>
<text x="284.0" y="1343" stroke="#1c2b3b" stroke-width="0.35">Добре</text>
<rect x="415.0" y="1324.5" width="16.5" height="16.5" fill="#09a6c3"/>
<text x="440.0" y="1343" stroke="#1c2b3b" stroke-width="0.35">Середньо</text>
<rect x="620.0" y="1324.5" width="16.5" height="16.5" fill="#bf84ae"/>
<text x="645.0" y="1343" stroke="#1c2b3b" stroke-width="0.35">Погано</text>
<rect x="785.0" y="1324.5" width="16.5" height="16.5" fill="#943172"/>
<text x="810.0" y="1343" stroke="#1c2b3b" stroke-width="0.35">Жахливо</text>
<rect x="981.0" y="1324.5" width="16.5" height="16.5" fill="#777777"/>
<text x="1004.6" y="1343" stroke="#1c2b3b" stroke-width="0.35" textLength="297" lengthAdjust="spacingAndGlyphs">Послуга недоступна</text>
<rect x="1341.6" y="1324.5" width="16.5" height="16.5" fill="#bcbcbc"/>
<text x="1365.0" y="1343" stroke="#1c2b3b" stroke-width="0.35" textLength="511" lengthAdjust="spacingAndGlyphs">Важко відповісти/Немає відповіді</text>
</g>
<text x="1744" y="1388" font-family="DejaVu Sans, sans-serif" font-stretch="condensed" font-size="31" fill="#a3a3a3" textLength="32" lengthAdjust="spacingAndGlyphs">33</text>
</svg></body></html>
